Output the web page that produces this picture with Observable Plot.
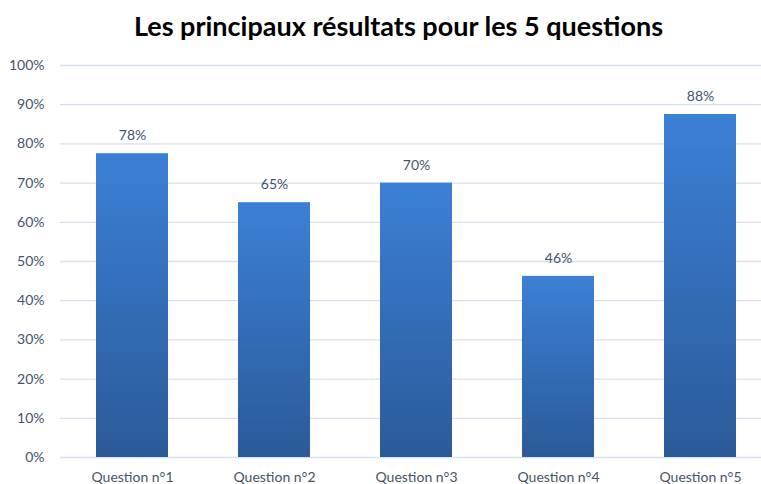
<!DOCTYPE html>
<html>
<head>
<meta charset="utf-8">
<script src="https://cdn.jsdelivr.net/npm/d3@7"></script>
<script src="https://cdn.jsdelivr.net/npm/@observablehq/plot@0.6"></script>
<style>
  body { margin: 0; background: #fff; font-family: Lato, "Open Sans", sans-serif; }
  #title { height: 50px; line-height: 52px; text-align: center; font-size: 27px; font-weight: bold; color: #000; padding-left: 36px; }
</style>
</head>
<body>
<div id="title">Les principaux résultats pour les 5 questions</div>
<div id="chart"></div>
<script>
const categories = ["Question n°1", "Question n°2", "Question n°3", "Question n°4", "Question n°5"];
const values = [0.775, 0.65, 0.70, 0.462, 0.875];
const yTicks = [0, 0.1, 0.2, 0.3, 0.4, 0.5, 0.6, 0.7, 0.8, 0.9, 1.0];

const data = categories.map((c, i) => ({ q: c, v: values[i] }));
const textColor = "#44546a";

const chart = Plot.plot({
  width: 761,
  height: 434,
  marginTop: 15,
  marginBottom: 27,
  marginLeft: 60,
  marginRight: 0,
  style: { fontFamily: "Lato, 'Open Sans', sans-serif", fontSize: "14px", color: textColor, background: "white" },
  x: { domain: categories, range: [60, 772], paddingInner: 0.49, paddingOuter: 0.245, label: null, tickSize: 0, tickPadding: 15 },
  y: { domain: [0, 1], ticks: yTicks, tickFormat: d3.format(".0%"), label: null, tickSize: 0, tickPadding: 16 },
  marks: [
    Plot.ruleY(yTicks, { stroke: "#d6e0ee", strokeWidth: 1.3 }),
    Plot.barY(data, { x: "q", y: "v", fill: "url(#barGrad)" }),
    Plot.text(data, { x: "q", y: "v", text: d => d3.format(".0%")(d.v), dy: -18, fill: textColor, fontSize: 14 })
  ]
});

const ns = "http://www.w3.org/2000/svg";
const defs = document.createElementNS(ns, "defs");
const grad = document.createElementNS(ns, "linearGradient");
grad.setAttribute("id", "barGrad");
grad.setAttribute("x1", "0"); grad.setAttribute("y1", "0");
grad.setAttribute("x2", "0"); grad.setAttribute("y2", "1");
[["0", "#3b80d6"], ["1", "#2b5a98"]].forEach(([o, c]) => {
  const s = document.createElementNS(ns, "stop");
  s.setAttribute("offset", o); s.setAttribute("stop-color", c);
  grad.appendChild(s);
});
defs.appendChild(grad);
chart.insertBefore(defs, chart.firstChild);

document.getElementById("chart").appendChild(chart);
</script>
</body>
</html>
